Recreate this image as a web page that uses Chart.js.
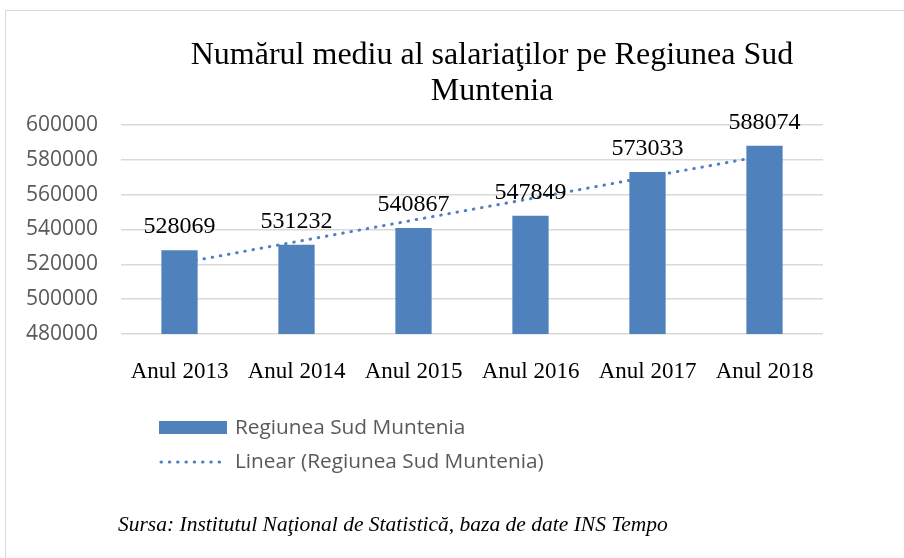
<!DOCTYPE html>
<html>
<head>
<meta charset="utf-8">
<script src="https://cdn.jsdelivr.net/npm/chart.js@4"></script>
<style>
  html, body { margin: 0; padding: 0; background: #ffffff; }
  #wrap { position: relative; width: 904px; height: 558px; }
</style>
</head>
<body>
<div id="wrap"><canvas id="salariatiChart" width="904" height="558"></canvas></div>
<script>
// DATE
const categories = ['Anul 2013', 'Anul 2014', 'Anul 2015', 'Anul 2016', 'Anul 2017', 'Anul 2018'];
const salariati = [528069, 531232, 540867, 547849, 573033, 588074];
// linia de tendinta, valori estimate din imagine
const trendLinear = [520600, 533000, 545400, 557700, 570100, 582400];
const yTicks = [480000, 500000, 520000, 540000, 560000, 580000, 600000];

const titleLines = ['Numărul mediu al salariaţilor pe Regiunea Sud', 'Muntenia'];
const seriesName = 'Regiunea Sud Muntenia';
const trendName = 'Linear (Regiunea Sud Muntenia)';
const sourceText = 'Sursa: Institutul Naţional de Statistică, baza de date INS Tempo';

const barColor = '#4f81bd';
const serif = '"Liberation Serif", "Times New Roman", serif';
const sans = '"Open Sans", sans-serif';

// PLUGIN: chenar, titlu, etichete, legenda, sursa
const decorPlugin = {
    id: 'decor',
    beforeDraw(chart) {
        const ctx = chart.ctx;
        ctx.save();
        ctx.strokeStyle = '#d9d9d9';
        ctx.lineWidth = 1;
        ctx.strokeRect(5.5, 10.5, 1000, 1000);
        ctx.restore();
    },
    afterDatasetsDraw(chart) {
        const ctx = chart.ctx;
        const meta = chart.getDatasetMeta(0);
        ctx.save();
        ctx.fillStyle = '#000000';
        ctx.font = '24px ' + serif;
        ctx.textAlign = 'center';
        ctx.textBaseline = 'alphabetic';
        meta.data.forEach((bar, i) => {
            ctx.fillText(String(salariati[i]), bar.x, bar.y - 17);
        });
        ctx.restore();
    },
    afterDraw(chart) {
        const ctx = chart.ctx;
        ctx.save();
        // titlu
        ctx.fillStyle = '#000000';
        ctx.font = '32px ' + serif;
        ctx.textAlign = 'center';
        ctx.textBaseline = 'alphabetic';
        ctx.fillText(titleLines[0], 492, 64);
        ctx.fillText(titleLines[1], 492, 100);

        // legenda
        ctx.fillStyle = barColor;
        ctx.fillRect(159, 421, 68, 13);
        ctx.strokeStyle = barColor;
        ctx.lineWidth = 3;
        ctx.lineCap = 'round';
        ctx.setLineDash([0.5, 7.8]);
        ctx.beginPath();
        ctx.moveTo(161, 462);
        ctx.lineTo(227, 462);
        ctx.stroke();
        ctx.setLineDash([]);
        ctx.fillStyle = '#595959';
        ctx.font = '20.8px ' + sans;
        ctx.textAlign = 'left';
        ctx.textBaseline = 'middle';
        ctx.fillText(seriesName, 235, 428);
        ctx.fillText(trendName, 235, 462);

        // sursa
        ctx.fillStyle = '#000000';
        ctx.font = 'italic 21.5px ' + serif;
        ctx.textBaseline = 'alphabetic';
        ctx.fillText(sourceText, 118, 531);
        ctx.restore();
    }
};

new Chart(document.getElementById('salariatiChart'), {
    type: 'bar',
    data: {
        labels: categories,
        datasets: [
            {
                label: seriesName,
                data: salariati,
                backgroundColor: barColor,
                borderWidth: 0,
                barPercentage: 0.31,
                categoryPercentage: 1,
                order: 1
            },
            {
                type: 'line',
                label: trendName,
                data: trendLinear,
                borderColor: barColor,
                borderWidth: 3,
                borderDash: [0.5, 7.8],
                borderCapStyle: 'round',
                pointRadius: 0,
                fill: false,
                tension: 0,
                order: 2
            }
        ]
    },
    options: {
        responsive: false,
        animation: false,
        layout: { padding: { top: 125, right: 81, left: 0, bottom: 0 } },
        plugins: {
            legend: { display: false },
            title: { display: false },
            tooltip: { enabled: false }
        },
        scales: {
            x: {
                grid: { display: false },
                border: { display: false },
                ticks: {
                    color: '#000000',
                    font: { family: serif, size: 23 },
                    padding: 16,
                    maxRotation: 0
                },
                afterFit(scale) { scale.height = 224; }
            },
            y: {
                min: yTicks[0],
                max: yTicks[yTicks.length - 1],
                afterBuildTicks(scale) { scale.ticks = yTicks.map(v => ({ value: v })); },
                grid: { color: '#d9d9d9', lineWidth: 1.5, drawTicks: false },
                border: { display: false },
                ticks: {
                    color: '#595959',
                    font: { family: sans, size: 21 },
                    padding: 23,
                    callback: v => String(v)
                },
                afterFit(scale) { scale.width = 121; }
            }
        }
    },
    plugins: [decorPlugin]
});
</script>
</body>
</html>
